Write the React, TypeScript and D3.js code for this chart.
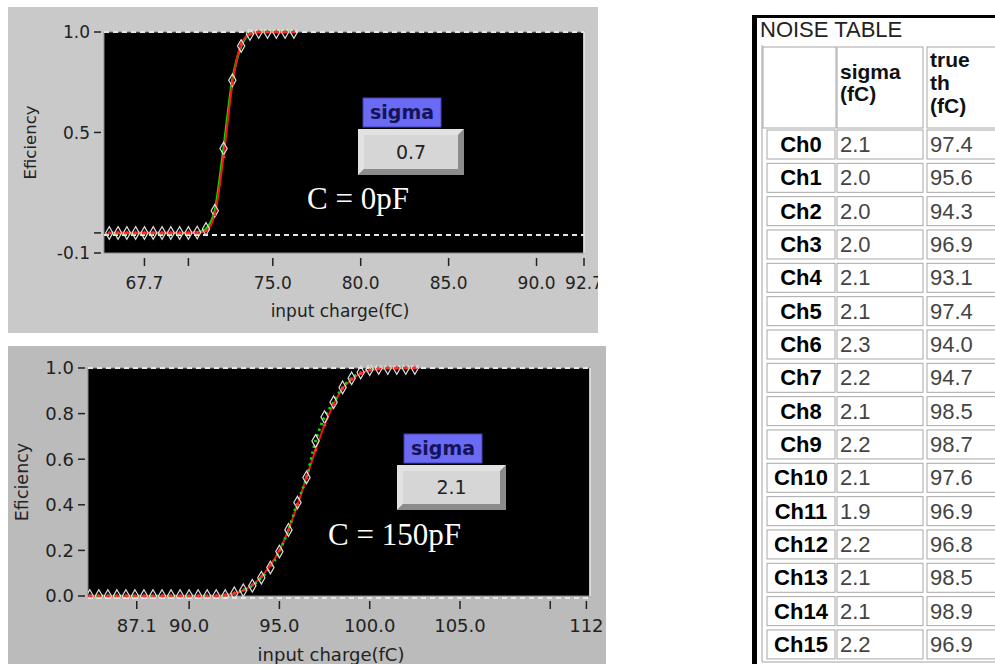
import * as React from 'react';
import * as d3 from 'd3';

// top graph, C = 0pF
const topCharge = [65.7, 66.2, 66.7, 67.2, 67.7, 68.2, 68.7, 69.2, 69.7, 70.2, 70.7, 71.2, 71.7, 72.2, 72.7, 73.2, 73.7, 74.2, 74.7, 75.2, 75.7, 76.2];
const topMeasured = [0, 0, 0, 0, 0, 0, 0, 0, 0, 0, 0.002, 0.02, 0.11, 0.42, 0.76, 0.93, 0.99, 1, 1, 1, 1, 1];
const topFit = [0, 0, 0, 0, 0, 0, 0, 0, 0, 0, 0, 0.01, 0.09, 0.38, 0.74, 0.94, 0.99, 1, 1, 1, 1, 1];
const topXTicks = [67.7, 70.2, 75, 80, 85, 90, 92.7];
const topXLabels = ['67.7', '', '75.0', '80.0', '85.0', '90.0', '92.7'];
const topYTicks = [1.0, 0.5, 0.0, -0.1];
const topYLabels = ['1.0', '0.5', '', '-0.1'];

// bottom graph, C = 150pF
const botCharge = [84.5, 85, 85.5, 86, 86.5, 87, 87.5, 88, 88.5, 89, 89.5, 90, 90.5, 91, 91.5, 92,
  92.5, 93, 93.5, 94, 94.5, 95, 95.5, 96, 96.5, 97, 97.5, 98, 98.5, 99, 99.5, 100, 100.5, 101, 101.5, 102, 102.5];
const botMeasured = [0, 0, 0, 0, 0, 0, 0, 0, 0, 0, 0, 0, 0, 0, 0, 0,
  0.012, 0.025, 0.045, 0.08, 0.125, 0.195, 0.29, 0.41, 0.52, 0.68, 0.785, 0.85, 0.915, 0.955, 0.98, 0.995, 1, 1, 1, 1, 1];
const botFit = [0, 0, 0, 0, 0, 0, 0, 0, 0, 0, 0, 0, 0, 0, 0, 0.004,
  0.012, 0.025, 0.048, 0.085, 0.135, 0.2, 0.29, 0.4, 0.52, 0.64, 0.75, 0.84, 0.91, 0.95, 0.975, 0.99, 0.996, 1, 1, 1, 1];
const botXTicks = [87.1, 90, 95, 100, 105, 110, 112];
const botXLabels = ['87.1', '90.0', '95.0', '100.0', '105.0', '', '112'];
const botYTicks = [0, 0.2, 0.4, 0.6, 0.8, 1.0];
const botYLabels = ['0.0', '0.2', '0.4', '0.6', '0.8', '1.0'];

// noise table
const channels = ['Ch0', 'Ch1', 'Ch2', 'Ch3', 'Ch4', 'Ch5', 'Ch6', 'Ch7', 'Ch8', 'Ch9', 'Ch10', 'Ch11', 'Ch12', 'Ch13', 'Ch14', 'Ch15'];
const sigmas = ['2.1', '2.0', '2.0', '2.0', '2.1', '2.1', '2.3', '2.2', '2.1', '2.2', '2.1', '1.9', '2.2', '2.1', '2.1', '2.2'];
const thresholds = ['97.4', '95.6', '94.3', '96.9', '93.1', '97.4', '94.0', '94.7', '98.5', '98.7', '97.6', '96.9', '96.8', '98.5', '98.9', '96.9'];

const GUI = '"DejaVu Sans", Verdana, sans-serif';
const ARIAL = '"Liberation Sans", Arial, sans-serif';

interface PanelProps {
  id: string;
  box: [number, number, number, number];
  bg: string;
  plot: [number, number, number, number];
  xDomain: [number, number];
  yDomain: [number, number];
  charge: number[];
  measured: number[];
  fit: number[];
  xTicks: number[]; xLabels: string[];
  yTicks: number[]; yLabels: string[];
  fontSize: number;
  yTitleX: number; xTitle: [number, number];
  sigma: string; sigmaBox: [number, number, number, number];
  valueBox: [number, number, number, number];
  cap: string; capPos: [number, number];
  greenDash?: string;
}

function Panel(p: PanelProps) {
  const [bx, by, bw, bh] = p.box;
  const [px0, py0, px1, py1] = p.plot;
  const x = d3.scaleLinear().domain(p.xDomain).range([px0, px1]);
  const y = d3.scaleLinear().domain(p.yDomain).range([py1, py0]);
  const idx = d3.range(p.charge.length);
  const line = (vals: number[]) =>
    d3.line<number>().x(i => x(p.charge[i])).y(i => y(vals[i])).curve(d3.curveMonotoneX)(idx)!;
  const diamond = d3.symbol().type(d3.symbolDiamond).size(46)()!;
  const tri = d3.symbol().type(d3.symbolTriangle).size(9)()!;
  const [sx, sy, sw, sh] = p.sigmaBox;
  const [vx, vy, vw, vh] = p.valueBox;

  return (
    <g>
      <defs>
        <clipPath id={`${p.id}-panel`}><rect x={bx} y={by} width={bw} height={bh} /></clipPath>
        <clipPath id={`${p.id}-plot`}><rect x={px0} y={py0 - 3} width={px1 - px0} height={py1 - py0 + 6} /></clipPath>
      </defs>
      <g clipPath={`url(#${p.id}-panel)`}>
        <rect x={bx} y={by} width={bw} height={bh} fill={p.bg} />
        <rect x={px0} y={py0} width={px1 - px0} height={py1 - py0} fill="#000" stroke="#8a8a8a" />
        <line x1={px1} x2={px1} y1={py0} y2={py1} stroke="#f0f0f0" strokeWidth={1.5} />

        {/* y axis */}
        {p.yTicks.map((t, i) => (
          <g key={i}>
            <line x1={px0 - 10} x2={px0 - 3} y1={y(t)} y2={y(t)} stroke="#222" strokeWidth={1.5} />
            <text x={px0 - 14} y={y(t)} dy="0.36em" textAnchor="end" fontFamily={GUI} fontSize={p.fontSize} fill="#222">{p.yLabels[i]}</text>
          </g>
        ))}
        {/* x axis */}
        {p.xTicks.map((t, i) => (
          <g key={i}>
            <line x1={x(t)} x2={x(t)} y1={py1 + 5} y2={py1 + 13} stroke="#222" strokeWidth={1.5} />
            <text x={x(t)} y={py1 + 36} textAnchor="middle" fontFamily={GUI} fontSize={p.fontSize} fill="#222">{p.xLabels[i]}</text>
          </g>
        ))}
        <text transform={`translate(${p.yTitleX},${(py0 + py1) / 2}) rotate(-90)`} textAnchor="middle" fontFamily={GUI} fontSize={p.fontSize - 0.5} fill="#222">Eficiency</text>
        <text x={p.xTitle[0]} y={p.xTitle[1]} textAnchor="middle" fontFamily={GUI} fontSize={p.fontSize} fill="#222">input charge(fC)</text>

        <g clipPath={`url(#${p.id}-plot)`}>
          {/* cursor lines */}
          {[p.yDomain[1], 0].map((v, i) => (
            <line key={i} x1={px0} x2={px1} y1={y(v) + (i ? 2 : 0)} y2={y(v) + (i ? 2 : 0)} stroke="#e6e6e6" strokeWidth={2} strokeDasharray="5 4" />
          ))}
          <path d={line(p.measured)} fill="none" stroke="#00e000" strokeWidth={2.5} strokeDasharray={p.greenDash} />
          <path d={line(p.fit)} fill="none" stroke="#ff1010" strokeWidth={2} />
          {p.greenDash && <path d={line(p.measured)} fill="none" stroke="#00e000" strokeWidth={2.5} strokeDasharray={p.greenDash} />}
          {idx.map(i => (
            <path key={`d${i}`} d={diamond} transform={`translate(${x(p.charge[i])},${y(p.measured[i])})`} fill="none" stroke="#e0e0e0" strokeWidth={1.2} />
          ))}
          {idx.map(i => (
            <path key={`t${i}`} d={tri} transform={`translate(${x(p.charge[i])},${y(p.fit[i])})`} fill="#ff3030" />
          ))}
        </g>

        {/* sigma indicator */}
        <rect x={sx} y={sy} width={sw} height={sh} fill="#6a6af2" stroke="#4040b8" />
        <text x={sx + sw / 2} y={sy + sh / 2} dy="0.33em" textAnchor="middle" fontFamily={GUI} fontWeight="bold" fontSize={19} fill="#14145a">sigma</text>
        <rect x={vx} y={vy} width={vw} height={vh} fill="#a8a8a8" />
        <polygon points={`${vx},${vy} ${vx + vw},${vy} ${vx + vw - 6},${vy + 6} ${vx + 6},${vy + 6} ${vx + 6},${vy + vh - 6} ${vx},${vy + vh}`} fill="#e2e2e2" />
        <polygon points={`${vx + vw},${vy} ${vx + vw},${vy + vh} ${vx},${vy + vh} ${vx + 6},${vy + vh - 6} ${vx + vw - 6},${vy + vh - 6} ${vx + vw - 6},${vy + 6}`} fill="#8c8c8c" />
        <rect x={vx + 6} y={vy + 6} width={vw - 12} height={vh - 12} fill="#d6d6d6" />
        <text x={vx + vw / 2} y={vy + vh / 2} dy="0.36em" textAnchor="middle" fontFamily={GUI} fontSize={19} fill="#222">{p.sigma}</text>

        <text x={p.capPos[0]} y={p.capPos[1]} fontFamily='"Liberation Serif", "Times New Roman", serif' fontSize={31} fill="#fff">{p.cap}</text>
      </g>
    </g>
  );
}

function NoiseTable() {
  const rowTop = 130, pitch = 33.33, rowH = 29;
  const labX = 767, labW = 68, sigX = 837, sigW = 86, thX = 927, thW = 80;
  return (
    <g>
      <rect x={752} y={15} width={243} height={3} fill="#000" />
      <rect x={752} y={15} width={5} height={649} fill="#000" />
      <text x={760} y={37} fontFamily={ARIAL} fontSize={22} fill="#222">NOISE TABLE</text>
      <line x1={762} x2={762} y1={45} y2={662} stroke="#a0a0a0" />
      <line x1={762} x2={995} y1={662} y2={662} stroke="#a0a0a0" />
      {/* header */}
      <rect x={763} y={47} width={73} height={81} fill="#fff" stroke="#a8a8a8" />
      <rect x={sigX} y={47} width={sigW} height={81} fill="#fff" stroke="#a8a8a8" />
      <rect x={thX} y={47} width={thW} height={81} fill="#fff" stroke="#a8a8a8" />
      <text fontFamily={ARIAL} fontWeight="bold" fontSize={21} fill="#111">
        <tspan x={sigX + 3} y={79}>sigma</tspan>
        <tspan x={sigX + 3} y={101}>(fC)</tspan>
      </text>
      <text fontFamily={ARIAL} fontWeight="bold" fontSize={21} fill="#111">
        <tspan x={thX + 3} y={67}>true</tspan>
        <tspan x={thX + 3} y={90}>th</tspan>
        <tspan x={thX + 3} y={113}>(fC)</tspan>
      </text>
      {channels.map((c, i) => {
        const top = rowTop + i * pitch;
        return (
          <g key={c}>
            <rect x={labX} y={top} width={labW} height={rowH} fill="#fff" stroke="#a8a8a8" />
            <rect x={sigX} y={top} width={sigW} height={rowH} fill="#fff" stroke="#a8a8a8" />
            <rect x={thX} y={top} width={thW} height={rowH} fill="#fff" stroke="#a8a8a8" />
            <text x={labX + labW / 2} y={top + 22} textAnchor="middle" fontFamily={ARIAL} fontWeight="bold" fontSize={22} fill="#000">{c}</text>
            <text x={sigX + 3} y={top + 22} fontFamily={ARIAL} fontSize={22} fill="#444">{sigmas[i]}</text>
            <text x={thX + 3} y={top + 22} fontFamily={ARIAL} fontSize={22} fill="#444">{thresholds[i]}</text>
          </g>
        );
      })}
    </g>
  );
}

export default function App() {
  return (
    <svg width={995} height={664} style={{ position: 'absolute', left: 0, top: 0, background: '#fff' }}>
      <Panel
        id="top" box={[8, 7, 590, 326]} bg="#c9c9c9" plot={[104, 32, 584, 253]}
        xDomain={[65.4, 92.7]} yDomain={[-0.1, 1.0]}
        charge={topCharge} measured={topMeasured} fit={topFit}
        xTicks={topXTicks} xLabels={topXLabels} yTicks={topYTicks} yLabels={topYLabels}
        fontSize={17} yTitleX={36} xTitle={[340, 317]}
        sigma="0.7" sigmaBox={[363, 98, 78, 29]} valueBox={[358, 129, 106, 46]}
        cap="C = 0pF" capPos={[307, 209]}
      />
      <Panel
        id="bot" box={[8, 346, 598, 318]} bg="#bbbbbb" plot={[88, 368, 590, 596]}
        xDomain={[84.4, 112.2]} yDomain={[0, 1.0]}
        charge={botCharge} measured={botMeasured} fit={botFit}
        xTicks={botXTicks} xLabels={botXLabels} yTicks={botYTicks} yLabels={botYLabels}
        fontSize={18} yTitleX={28} xTitle={[331, 661]}
        sigma="2.1" sigmaBox={[404, 434, 78, 29]} valueBox={[397, 465, 109, 45]}
        cap="C = 150pF" capPos={[328, 545]} greenDash="2 4"
      />
      <NoiseTable />
    </svg>
  );
}
